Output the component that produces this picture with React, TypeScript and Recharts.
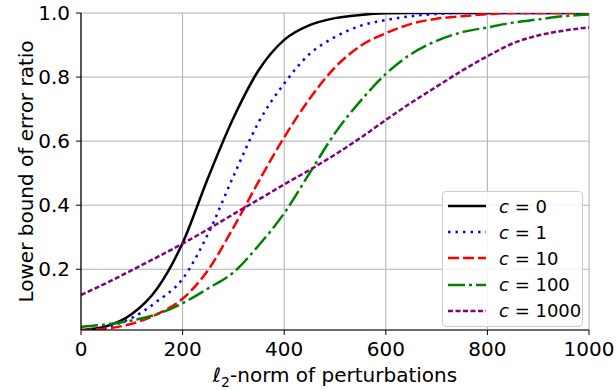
import React from "react"
import {
  LineChart,
  Line,
  XAxis,
  YAxis,
  CartesianGrid,
} from "recharts"

// perturbation norm sampled every 50
const norms = [0, 50, 100, 150, 200, 250, 300, 350, 400, 450, 500, 550, 600, 650, 700, 750, 800, 850, 900, 950, 1000]

const c0 = [0.01, 0.022, 0.06, 0.14, 0.282, 0.485, 0.672, 0.822, 0.916, 0.962, 0.984, 0.994, 0.999, 1.0, 1.0, 1.0, 1.0, 1.0, 1.0, 1.0, 1.0]
const c1 = [0.01, 0.02, 0.048, 0.1, 0.17, 0.31, 0.49, 0.66, 0.78, 0.872, 0.925, 0.96, 0.978, 0.99, 0.997, 1.0, 1.0, 1.0, 1.0, 1.0, 1.0]
const c10 = [0.01, 0.015, 0.03, 0.06, 0.108, 0.197, 0.33, 0.475, 0.612, 0.732, 0.83, 0.897, 0.937, 0.966, 0.982, 0.99, 0.996, 1.0, 1.0, 1.0, 1.0]
const c100 = [0.02, 0.028, 0.04, 0.06, 0.094, 0.14, 0.19, 0.275, 0.375, 0.5, 0.625, 0.725, 0.81, 0.872, 0.913, 0.94, 0.955, 0.97, 0.98, 0.99, 0.995]
const c1000 = [0.12, 0.157, 0.197, 0.238, 0.28, 0.325, 0.372, 0.418, 0.465, 0.51, 0.558, 0.61, 0.666, 0.72, 0.77, 0.82, 0.865, 0.905, 0.93, 0.945, 0.955]

const xTicks = [0, 200, 400, 600, 800, 1000]
const yTicks = [0.2, 0.4, 0.6, 0.8, 1.0]

const series = [
  { key: "c0", label: "0", values: c0, color: "#000000", dash: undefined },
  { key: "c1", label: "1", values: c1, color: "#0000ff", dash: "2.5 5" },
  { key: "c10", label: "10", values: c10, color: "#ff0000", dash: "11 4" },
  { key: "c100", label: "100", values: c100, color: "#008000", dash: "17 4 3 4" },
  { key: "c1000", label: "1000", values: c1000, color: "#800080", dash: "5 2.5" },
]

const data = norms.map((n, i) => {
  const row: Record<string, number> = { x: n }
  series.forEach((s) => {
    row[s.key] = s.values[i]
  })
  return row
})

const FONT = "DejaVu Sans"

const LegendBox = () => (
  <div
    style={{
      position: "absolute",
      left: 442,
      top: 191,
      width: 141,
      height: 136,
      background: "rgba(255,255,255,0.85)",
      border: "1px solid #cccccc",
      borderRadius: 4,
      fontFamily: FONT,
      fontSize: 18,
      boxSizing: "border-box",
      paddingTop: 1,
    }}
  >
    {series.map((s) => (
      <div key={s.key} style={{ display: "flex", alignItems: "center", height: 26.2 }}>
        <svg width={56} height={10} style={{ flex: "none" }}>
          <line
            x1={5}
            x2={43}
            y1={5}
            y2={5}
            stroke={s.color}
            strokeWidth={2.5}
            strokeDasharray={s.dash}
          />
        </svg>
        <span>
          <span style={{ fontStyle: "italic" }}>c</span>
          {" = "}
          {s.label}
        </span>
      </div>
    ))}
  </div>
)

const XLabel = (props: any) => {
  const vb = props.viewBox
  const cx = vb.x + vb.width / 2
  return (
    <text x={cx} y={382} textAnchor="middle" fontFamily={FONT} fontSize={20} fill="#000">
      <tspan fontStyle="italic">ℓ</tspan>
      <tspan fontSize={14} dy={5}>2</tspan>
      <tspan dy={-5}>-norm of perturbations</tspan>
    </text>
  )
}

const YLabel = (props: any) => {
  const vb = props.viewBox
  const cy = vb.y + vb.height / 2
  return (
    <text
      x={33}
      y={cy}
      textAnchor="middle"
      fontFamily={FONT}
      fontSize={20}
      fill="#000"
      transform={`rotate(-90, 33, ${cy})`}
    >
      Lower bound of error ratio
    </text>
  )
}

export default function App() {
  const tickStyle = { fill: "#000", fontFamily: FONT, fontSize: 20 }
  return (
    <div style={{ position: "absolute", left: 0, top: 0, width: 616, height: 390, background: "#fff" }}>
      <LineChart width={616} height={390} data={data} margin={{ top: 13, right: 27, left: 0, bottom: 0 }}>
        <CartesianGrid xAxisId="b" yAxisId="l" stroke="#b0b0b0" strokeWidth={1} vertical horizontal />
        <XAxis
          xAxisId="b"
          dataKey="x"
          type="number"
          domain={[0, 1000]}
          ticks={xTicks}
          height={60}
          tick={tickStyle}
          tickSize={5}
          tickMargin={7}
          stroke="#000"
          axisLine={{ stroke: "#000", strokeWidth: 1.2 }}
          tickLine={{ stroke: "#000" }}
          label={{ content: XLabel }}
        />
        <XAxis
          xAxisId="t"
          orientation="top"
          dataKey="x"
          type="number"
          domain={[0, 1000]}
          height={0}
          tick={false}
          tickLine={false}
          axisLine={{ stroke: "#000", strokeWidth: 1.2 }}
        />
        <YAxis
          yAxisId="l"
          type="number"
          domain={[0.0104, 1.0]}
          ticks={yTicks}
          width={81}
          tick={tickStyle}
          tickSize={5}
          tickMargin={6}
          tickFormatter={(v: number) => v.toFixed(1)}
          axisLine={{ stroke: "#000", strokeWidth: 1.2 }}
          tickLine={{ stroke: "#000" }}
          allowDataOverflow
          label={{ content: YLabel }}
        />
        <YAxis
          yAxisId="r"
          orientation="right"
          type="number"
          domain={[0.0104, 1.0]}
          width={0}
          tick={false}
          tickLine={false}
          axisLine={{ stroke: "#000", strokeWidth: 1.2 }}
        />
        {series.map((s) => (
          <Line
            key={s.key}
            xAxisId="b"
            yAxisId="l"
            dataKey={s.key}
            type="monotone"
            stroke={s.color}
            strokeWidth={2.5}
            strokeDasharray={s.dash}
            dot={false}
            isAnimationActive={false}
          />
        ))}
      </LineChart>
      <LegendBox />
    </div>
  )
}
